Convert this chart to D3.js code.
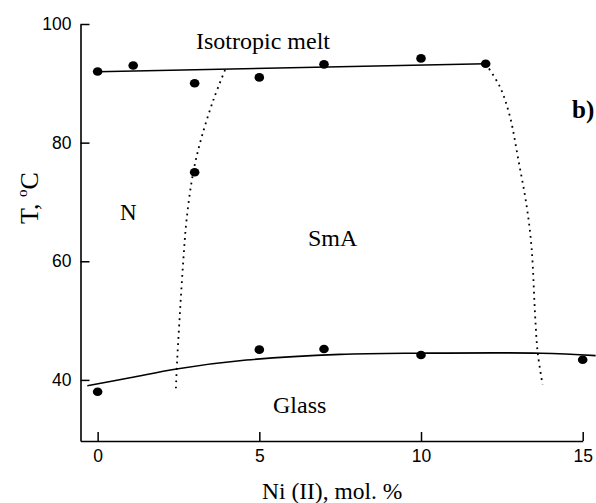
<!DOCTYPE html>
<html>
<head>
<meta charset="utf-8">
<script src="https://cdn.jsdelivr.net/npm/d3@7"></script>
<style>
  body { margin: 0; background: #fff; }
  svg { display: block; }
  .serif { font-family: "Liberation Serif", "Times New Roman", serif; fill: #000; }
</style>
</head>
<body>
<svg width="596" height="503"></svg>
<script>
// clearing points (N/SmA -> isotropic)
const niClear = [0, 1.1, 3, 5, 7, 10, 12];
const tClear = [92, 93, 90, 91, 93.2, 94.2, 93.3];
// N -> SmA point
const niNS = [3];
const tNS = [75];
// glass transition points
const niGlass = [0, 5, 7, 10, 15];
const tGlass = [38, 45.1, 45.2, 44.2, 43.4];

// solid guide lines
const isoFitNi = [0, 12];
const isoFitT = [91.95, 93.3];
const glassFitNi = [-0.32, 1, 2.44, 4.6, 7.5, 10, 13.7, 15.4];
const glassFitT = [39.0, 40.35, 41.85, 43.35, 44.3, 44.5, 44.5, 44.1];

// dotted phase boundaries
const niLeft = [3.94, 3.58, 3.22, 2.96, 2.75, 2.65, 2.55, 2.46, 2.42];
const tLeft = [92.25, 87.2, 81.0, 75.1, 67.0, 60.2, 51.8, 43.4, 38.6];
const niRight = [12, 12.44, 12.75, 13.01, 13.27, 13.42, 13.53, 13.61, 13.76];
const tRight = [93.3, 89.4, 84.4, 77.1, 69.2, 62.2, 50.7, 44.5, 39.2];

const xTicks = [0, 5, 10, 15];
const yTicks = [40, 60, 80, 100];

let svg = d3.select("svg");

let x = d3.scaleLinear().domain([-0.53, 15]).range([80.5, 582.7]);
let y = d3.scaleLinear().domain([29.7, 100]).range([441, 24]);

let zip = (a, b) => a.map((v, i) => [v, b[i]]);

// axes, ticks point inward
let xAxis = d3.axisBottom(x).tickValues(xTicks).tickSizeInner(-9).tickSizeOuter(0).tickPadding(9);
let yAxis = d3.axisLeft(y).tickValues(yTicks).tickSizeInner(-9).tickSizeOuter(0).tickPadding(9);

svg.append("g")
    .attr("transform", "translate(0," + y.range()[0] + ")")
    .call(xAxis);
svg.append("g")
    .attr("transform", "translate(" + x.range()[0] + ",0)")
    .call(yAxis);

svg.selectAll(".domain").attr("stroke-width", 1.6);
svg.selectAll(".tick line").attr("stroke-width", 1.5);
svg.selectAll(".tick text")
    .attr("font-family", "'Liberation Sans', Arial, sans-serif")
    .attr("font-size", 17.5)
    .attr("fill", "#000");

let line = d3.line().x(d => x(d[0])).y(d => y(d[1]));
let curvy = d3.line().x(d => x(d[0])).y(d => y(d[1])).curve(d3.curveCatmullRom);

// solid lines
svg.append("path")
    .datum(zip(isoFitNi, isoFitT))
    .attr("d", line)
    .attr("fill", "none").attr("stroke", "#000").attr("stroke-width", 1.6);

svg.append("path")
    .datum(zip(glassFitNi, glassFitT))
    .attr("d", curvy)
    .attr("fill", "none").attr("stroke", "#000").attr("stroke-width", 1.6);

// dotted boundaries
[zip(niLeft, tLeft), zip(niRight, tRight)].forEach(function (pts) {
  svg.append("path")
      .datum(pts)
      .attr("d", curvy)
      .attr("fill", "none")
      .attr("stroke", "#000")
      .attr("stroke-width", 1.8)
      .attr("stroke-dasharray", "1.8,4.4");
});

// points
let allPts = zip(niClear, tClear).concat(zip(niNS, tNS), zip(niGlass, tGlass));
svg.selectAll(".pt")
    .data(allPts)
    .enter()
    .append("ellipse")
    .classed("pt", true)
    .attr("cx", d => x(d[0]))
    .attr("cy", d => y(d[1]))
    .attr("rx", 4.8)
    .attr("ry", 4.3)
    .attr("fill", "#000");

// labels
function label(txt, px, py, size, weight) {
  return svg.append("text")
      .classed("serif", true)
      .attr("x", px).attr("y", py)
      .attr("font-size", size)
      .attr("font-weight", weight || "normal")
      .text(txt);
}
label("Isotropic melt", 196, 49, 24);
label("N", 120, 219.5, 23);
label("SmA", 308, 246, 24);
label("Glass", 273, 412.5, 24);
label("b)", 572, 118, 25, "bold");
label("Ni (II), mol. %", 262, 499, 23.5);

// y axis title with superscript o
let yt = svg.append("text")
    .classed("serif", true)
    .attr("transform", "translate(37.5,198) rotate(-90)")
    .attr("text-anchor", "middle")
    .attr("font-size", 26);
yt.append("tspan").text("T, ");
yt.append("tspan").attr("font-size", 15).attr("dy", -11).text("o");
yt.append("tspan").attr("dy", 11).text("C");
</script>
</body>
</html>
